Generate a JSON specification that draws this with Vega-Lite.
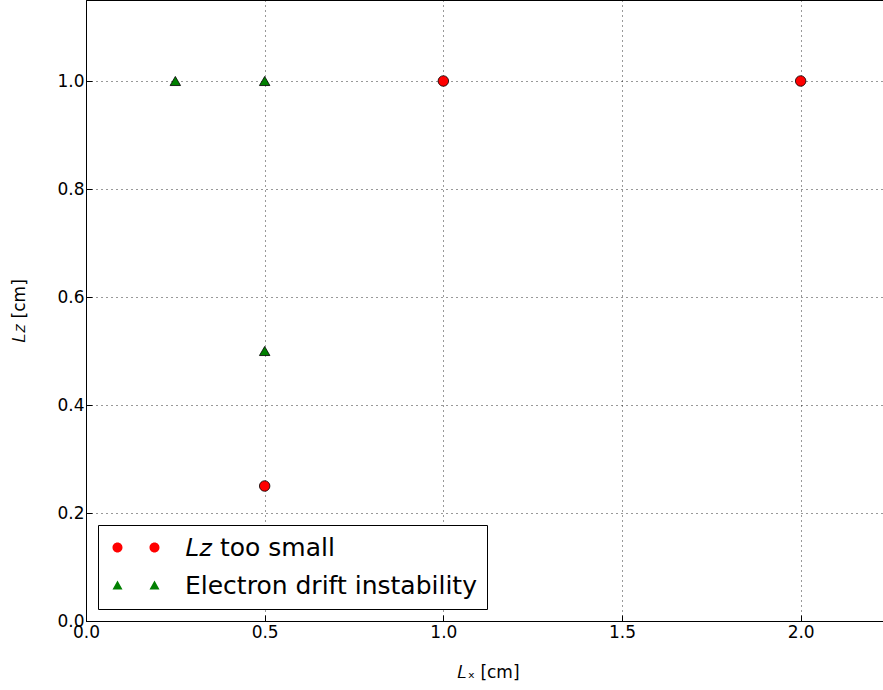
{
  "$schema": "https://vega.github.io/schema/vega-lite/v6.json",
  "width": 804,
  "height": 621,
  "autosize": "none",
  "padding": {"left": 86, "top": 0, "right": 0, "bottom": 69},
  "background": "white",
  "config": {
    "font": "DejaVu Sans",
    "view": {"stroke": "black", "strokeWidth": 1},
    "axis": {
      "domainColor": "black",
      "domainWidth": 1,
      "tickColor": "black",
      "tickSize": -6,
      "labelFlush": false,
      "labelFont": "DejaVu Sans",
      "labelFontSize": 17,
      "labelColor": "black",
      "titleFont": "DejaVu Sans",
      "titleFontSize": 17,
      "titleFontWeight": "normal",
      "titleColor": "black",
      "gridColor": "black",
      "gridDash": [1, 4],
      "gridWidth": 1,
      "gridOpacity": 0.8
    },
    "legend": {
      "orient": "bottom-left",
      "offset": 12,
      "labelFont": "DejaVu Sans",
      "labelFontSize": 25,
      "labelColor": "black",
      "labelLimit": 500,
      "labelOffset": 55,
      "symbolOffset": -3,
      "symbolSize": 100,
      "symbolStrokeColor": "black",
      "symbolStrokeWidth": 0.8,
      "symbolOpacity": 1,
      "rowPadding": 12,
      "padding": 10,
      "strokeColor": "black",
      "fillColor": "white",
      "cornerRadius": 0
    }
  },
  "data": {
    "values": [
      {"Lx": 0.5, "Lz": 0.25, "cls": "Lz too small"},
      {"Lx": 1.0, "Lz": 1.0, "cls": "Lz too small"},
      {"Lx": 2.0, "Lz": 1.0, "cls": "Lz too small"},
      {"Lx": 0.25, "Lz": 1.0, "cls": "Electron drift instability"},
      {"Lx": 0.5, "Lz": 1.0, "cls": "Electron drift instability"},
      {"Lx": 0.5, "Lz": 0.5, "cls": "Electron drift instability"}
    ]
  },
  "encoding": {
    "x": {
      "field": "Lx", "type": "quantitative",
      "scale": {"domain": [0, 2.25], "nice": false, "zero": false},
      "axis": {"values": [0, 0.5, 1.0, 1.5, 2.0], "format": ".1f", "labelPadding": 9, "title": "𝐿ₓ [cm]", "titlePadding": 24}
    },
    "y": {
      "field": "Lz", "type": "quantitative",
      "scale": {"domain": [0, 1.15], "nice": false, "zero": false},
      "axis": {"values": [0, 0.2, 0.4, 0.6, 0.8, 1.0], "format": ".1f", "labelPadding": 8, "title": "𝐿𝑧 [cm]", "titlePadding": 28}
    }
  },
  "layer": [
    {
      "mark": {"type": "point", "filled": true, "stroke": "black", "strokeWidth": 0.8, "opacity": 1, "size": 110},
      "encoding": {
        "color": {
          "field": "cls", "type": "nominal",
          "scale": {"domain": ["Lz too small", "Electron drift instability"], "range": ["#ff0000", "#008000"]},
          "legend": null
        },
        "shape": {
          "field": "cls", "type": "nominal",
          "scale": {"domain": ["Lz too small", "Electron drift instability"], "range": ["circle", "triangle-up"]},
          "legend": null
        }
      }
    },
    {
      "transform": [{"filter": "datum.Lz > 5"}],
      "mark": {"type": "point", "filled": true, "stroke": "black", "strokeWidth": 0.8, "opacity": 1, "size": 100},
      "encoding": {
        "color": {
          "field": "cls", "type": "nominal",
          "scale": {"domain": ["Lz too small", "Electron drift instability"], "range": ["#ff0000", "#008000"]},
          "legend": {
            "title": null,
            "labelExpr": "datum.value == 'Lz too small' ? '𝐿𝑧 too small' : datum.label"
          }
        },
        "shape": {
          "field": "cls", "type": "nominal",
          "scale": {"domain": ["Lz too small", "Electron drift instability"], "range": ["M -1 0 A 1 1 0 1 0 1 0 A 1 1 0 1 0 -1 0 Z M 6.4 0 A 1 1 0 1 0 8.4 0 A 1 1 0 1 0 6.4 0 Z", "M 0 -1 L 1 0.8 L -1 0.8 Z M 7.4 -1 L 8.4 0.8 L 6.4 0.8 Z"]},
          "legend": {
            "title": null,
            "labelExpr": "datum.value == 'Lz too small' ? '𝐿𝑧 too small' : datum.label"
          }
        }
      }
    }
  ],
  "resolve": {"scale": {"shape": "independent", "color": "independent"}}
}
